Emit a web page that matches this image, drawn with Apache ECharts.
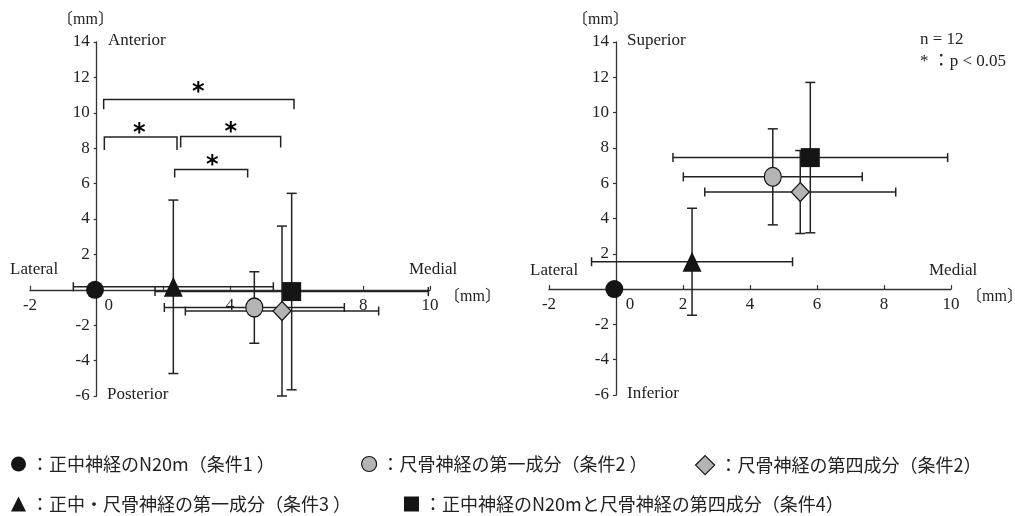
<!DOCTYPE html>
<html><head><meta charset="utf-8">
<script src="https://cdn.jsdelivr.net/npm/echarts@6/dist/echarts.min.js"></script>
<style>html,body{margin:0;padding:0;background:#fff}#c{width:1015px;height:516px}</style>
</head><body><div id="c"></div>
<script>
// ---------------- data ----------------
const conditionNames = [
  '：正中神経のN20m（条件1 ）',
  '：尺骨神経の第一成分（条件2 ）',
  '：尺骨神経の第四成分（条件2）',
  '：正中・尺骨神経の第一成分（条件3 ）',
  '：正中神経のN20mと尺骨神経の第四成分（条件4）'
];
// each row: [mean x, mean y, SD x, SD y]  (mm)
// left panel: Lateral–Medial vs Anterior–Posterior
const leftCond1  = [-0.05, 0, 0, 0];
const leftCond2a = [4.73, -1.0, 2.7, 2.02];
const leftCond2b = [5.56, -1.2, 2.9, 4.8];
const leftCond3  = [2.3, 0.17, 3.0, 4.9];
const leftCond4  = [5.85, -0.1, 4.1, 5.55];
// right panel: Lateral–Medial vs Superior–Inferior
const rightCond1  = [-0.05, 0, 0, 0];
const rightCond2a = [4.68, 6.36, 2.67, 2.72];
const rightCond2b = [5.5, 5.5, 2.85, 2.35];
const rightCond3  = [2.27, 1.55, 3.0, 3.03];
const rightCond4  = [5.8, 7.45, 4.1, 4.26];
// significance brackets (left panel): [x start, x end, y top, y leg end, star x, star y]
const bracketA = [0.21, 5.92, 10.75, 10.2, 3.05, 11.4];
const bracketB = [0.23, 2.41, 8.63, 7.9, 1.28, 9.1];
const bracketC = [2.52, 5.52, 8.66, 8.04, 4.02, 9.15];
const bracketD = [2.34, 4.53, 6.8, 6.35, 3.47, 7.3];
// axis ticks
const xTickValues = [-2, 0, 2, 4, 6, 8, 10];
const leftXTickLabels  = ['-2', '0', '', '4', '', '8', '10'];
const rightXTickLabels = ['-2', '0', '2', '4', '6', '8', '10'];
const yTickValues = [-6, -4, -2, 0, 2, 4, 6, 8, 10, 12, 14];
const yTickLabels = ['-6', '-4', '-2', '', '2', '4', '6', '8', '10', '12', '14'];
const xMin = -2, xMax = 10, yMin = -6, yMax = 14;

// ---------------- layout & styles ----------------
const grids = [
  {left: 30, top: 42, width: 400, height: 354},
  {left: 549, top: 42, width: 402, height: 353}
];
const SERIF = '"Liberation Serif", "Noto Sans CJK JP", serif';
const INK = '#151515';
const GRAY = '#b4b4b4';
const markerStyles = [
  {symbol: 'circle', symbolSize: 18, itemStyle: {color: INK, opacity: 1}},
  {symbol: 'circle', symbolSize: [17, 19], itemStyle: {color: GRAY, borderColor: INK, borderWidth: 1.2, opacity: 1}},
  {symbol: 'diamond', symbolSize: [18, 19], itemStyle: {color: GRAY, borderColor: INK, borderWidth: 1.2, opacity: 1}},
  {symbol: 'triangle', symbolSize: [19, 20], itemStyle: {color: INK, opacity: 1}},
  {symbol: 'rect', symbolSize: 19, itemStyle: {color: INK, opacity: 1}}
];
const legendIcons = ['circle', 'circle', 'diamond', 'triangle', 'rect'];

function xLabelFmt(labels) {
  return function (v) {
    const i = xTickValues.indexOf(v);
    const t = i >= 0 ? labels[i] : '';
    if (v === 0) return '{z|' + t + '}';
    return t;
  };
}
function yLabelFmt(v) {
  const i = yTickValues.indexOf(v);
  return i >= 0 ? yTickLabels[i] : '';
}

function makeXAxis(gi, labels, zeroShift) {
  const g = grids[gi];
  return {
    gridIndex: gi, type: 'value', min: xMin, max: xMax, interval: 2,
    position: 'bottom', offset: -g.height * (0 - yMin) / (yMax - yMin),
    axisLine: {onZero: false, lineStyle: {color: '#333', width: 1.3}},
    axisTick: {inside: true, length: 4, lineStyle: {color: '#333', width: 1.2}},
    splitLine: {show: false},
    axisLabel: {
      margin: 7, color: '#222', fontFamily: SERIF, fontSize: 17,
      formatter: xLabelFmt(labels),
      rich: {z: {fontFamily: SERIF, fontSize: 17, color: '#222', padding: [0, 0, 0, zeroShift * 2]}}
    }
  };
}
function makeYAxis(gi) {
  const g = grids[gi];
  return {
    gridIndex: gi, type: 'value', min: yMin, max: yMax, interval: 2,
    position: 'left', offset: -g.width * (0 - xMin) / (xMax - xMin),
    axisLine: {onZero: false, lineStyle: {color: '#333', width: 1.3}},
    axisTick: {inside: false, length: 3, lineStyle: {color: '#333', width: 1.2}},
    splitLine: {show: false},
    axisLabel: {margin: 7, color: '#222', fontFamily: SERIF, fontSize: 17, formatter: yLabelFmt}
  };
}

function errorBarRender(params, api) {
  const x = api.value(0), y = api.value(1), sx = api.value(2), sy = api.value(3);
  const style = {stroke: '#222', lineWidth: 1.5, fill: null};
  const children = [];
  const cap = 4.5;
  if (sx > 0) {
    const a = api.coord([x - sx, y]), b = api.coord([x + sx, y]);
    children.push({type: 'line', shape: {x1: a[0], y1: a[1], x2: b[0], y2: b[1]}, style});
    children.push({type: 'line', shape: {x1: a[0], y1: a[1] - cap, x2: a[0], y2: a[1] + cap}, style});
    children.push({type: 'line', shape: {x1: b[0], y1: b[1] - cap, x2: b[0], y2: b[1] + cap}, style});
  }
  if (sy > 0) {
    const a = api.coord([x, y - sy]), b = api.coord([x, y + sy]);
    children.push({type: 'line', shape: {x1: a[0], y1: a[1], x2: b[0], y2: b[1]}, style});
    children.push({type: 'line', shape: {x1: a[0] - cap - 0.5, y1: a[1], x2: a[0] + cap + 0.5, y2: a[1]}, style});
    children.push({type: 'line', shape: {x1: b[0] - cap - 0.5, y1: b[1], x2: b[0] + cap + 0.5, y2: b[1]}, style});
  }
  return {type: 'group', children};
}

function bracketRender(params, api) {
  const x1 = api.value(0), x2 = api.value(1), yt = api.value(2), yl = api.value(3);
  const sx = api.value(4), sy = api.value(5);
  const p1 = api.coord([x1, yl]), p2 = api.coord([x1, yt]), p3 = api.coord([x2, yt]), p4 = api.coord([x2, yl]);
  const s = api.coord([sx, sy]);
  return {
    type: 'group',
    children: [
      {type: 'polyline', shape: {points: [p1, p2, p3, p4]}, style: {stroke: '#222', lineWidth: 1.5, fill: null}},
      {type: 'text', x: s[0], y: s[1] + 5, style: {text: '*', fill: '#000', font: 'bold 24px "DejaVu Sans"', align: 'center', verticalAlign: 'middle'}}
    ]
  };
}

const leftRows = [leftCond1, leftCond2a, leftCond2b, leftCond3, leftCond4];
const rightRows = [rightCond1, rightCond2a, rightCond2b, rightCond3, rightCond4];

const series = [];
[[leftRows, 0], [rightRows, 1]].forEach(([rows, gi]) => {
  series.push({
    type: 'custom', coordinateSystem: 'cartesian2d', xAxisIndex: gi, yAxisIndex: gi,
    renderItem: errorBarRender, silent: true, z: 2,
    encode: {x: 0, y: 1}, data: rows.filter(r => r[2] > 0 || r[3] > 0)
  });
  rows.forEach((r, i) => {
    series.push(Object.assign({
      type: 'scatter', name: conditionNames[i], xAxisIndex: gi, yAxisIndex: gi,
      data: [[r[0], r[1]]], z: 5, silent: true
    }, markerStyles[i]));
  });
});
series.push({
  type: 'custom', coordinateSystem: 'cartesian2d', xAxisIndex: 0, yAxisIndex: 0,
  renderItem: bracketRender, silent: true, z: 3, encode: {x: 0, y: 2},
  data: [bracketA, bracketB, bracketC, bracketD]
});

const legendPos = [[11, 455], [361, 455], [695, 455], [11, 495], [404, 495]];
const legends = conditionNames.map((n, i) => ({
  data: [{name: n, icon: legendIcons[i], itemStyle: markerStyles[i].itemStyle}],
  left: legendPos[i][0], top: legendPos[i][1],
  itemWidth: i === 2 ? 19 : 15, itemHeight: i === 2 ? 19 : 15, itemGap: 0,
  selectedMode: false, padding: 0,
  textStyle: {fontFamily: '"Noto Sans CJK JP"', fontSize: 18, color: '#222', padding: [0, 0, 0, 0]}
}));

function txt(left, top, text, size) {
  return {type: 'text', left, top, silent: true,
    style: {text, fill: '#222', font: (size || 17) + 'px ' + SERIF}};
}
const annotations = [
  txt(57, 12, '〔mm〕', 16), txt(108, 32, 'Anterior'), txt(107, 386, 'Posterior'),
  txt(10, 261, 'Lateral'), txt(409, 261, 'Medial'), txt(444, 289, '〔mm〕', 16),
  txt(572, 12, '〔mm〕', 16), txt(627, 32, 'Superior'), txt(627, 385, 'Inferior'),
  txt(530, 262, 'Lateral'), txt(929, 262, 'Medial'), txt(966, 289, '〔mm〕', 16),
  txt(920, 31, 'n = 12', 17), txt(920, 53, '* ：p < 0.05', 17)
];

const chart = echarts.init(document.getElementById('c'), null, {renderer: 'canvas'});
chart.setOption({
  animation: false,
  backgroundColor: '#fff',
  grid: grids,
  xAxis: [makeXAxis(0, leftXTickLabels, 12), makeXAxis(1, rightXTickLabels, 14)],
  yAxis: [makeYAxis(0), makeYAxis(1)],
  legend: legends,
  graphic: annotations,
  series
});
</script></body></html>
